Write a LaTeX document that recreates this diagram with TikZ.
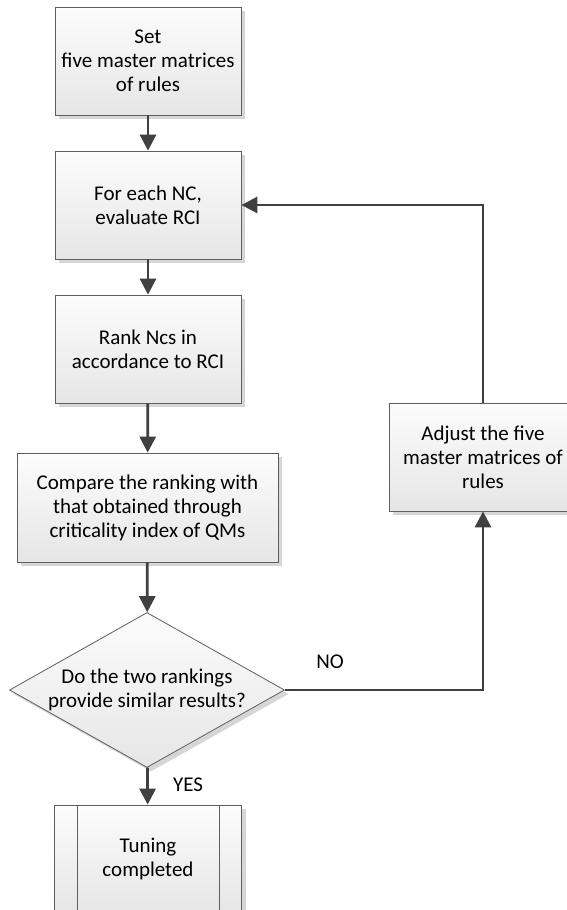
\documentclass[tikz,border=0pt]{standalone}
\usepackage{fontspec}
\setmainfont{Carlito}
\usetikzlibrary{arrows.meta,positioning,shapes.geometric,shadows}
\definecolor{FlowLine}{HTML}{404040}
\definecolor{FlowEdge}{HTML}{5F5F5F}
\definecolor{FlowTop}{HTML}{FCFCFC}
\definecolor{FlowBottom}{HTML}{E6E6E6}
\definecolor{FlowShadow}{HTML}{D6D6D6}

\begin{document}
\begin{tikzpicture}[x=1pt,y=-1pt,
    font=\fontsize{21}{24}\selectfont,
    stepbox/.style={draw=FlowEdge,line width=0.8pt,top color=FlowTop,bottom color=FlowBottom,
      minimum width=186pt,minimum height=108pt,align=center,inner sep=0pt,
      drop shadow={fill=FlowShadow,opacity=1,shadow xshift=4pt,shadow yshift=-4pt}},
    decision/.style={stepbox,diamond,aspect=1.77,inner sep=-3pt,minimum width=275pt,minimum height=155pt},
    flow/.style={draw=FlowLine,line width=2.8pt,-{Triangle[width=16pt,length=16pt]}}]
    \clip (0,0) rectangle (567,910);
    \fill[white] (0,0) rectangle (567,910);
    \coordinate (s) at (148,61);
    \coordinate (e) at (148,205);
    \coordinate (r) at (148,349);
    \coordinate (c) at (147.5,507.5);
    \coordinate (d) at (147,690);
    \coordinate (a) at (483,457);
    \coordinate (t) at (148,859);
    \node[stepbox] (set) at (s) {Set\\five master matrices\\of rules};
    \node[stepbox] (eval) at (e) {For each NC,\\evaluate RCI};
    \node[stepbox] (rank) at (r) {Rank Ncs in\\accordance to RCI};
    \node[stepbox,minimum width=261pt,minimum height=109pt] (compare) at (c)
      {Compare the ranking with\\that obtained through\\criticality index of QMs};
    \node[decision] (decide) at (d) {Do the two rankings\\provide similar results?};
    \node[stepbox,minimum width=188pt] (adjust) at (a) {Adjust the five\\master matrices of\\rules};
    \node[stepbox,minimum width=187pt] (final) at (t) {Tuning\\completed};
    \draw[FlowEdge,line width=0.8pt] ([xshift=23pt]final.north west) -- ([xshift=23pt]final.south west);
    \draw[FlowEdge,line width=0.8pt] ([xshift=-23pt]final.north east) -- ([xshift=-23pt]final.south east);
    \draw[flow] (set) -- (eval);
    \draw[flow] (eval) -- (rank);
    \draw[flow] (rank) -- (compare);
    \draw[flow] (compare) -- (decide);
    \draw[flow] (decide) -- (final);
    \draw[flow] (decide.east) -| (adjust.south);
    \draw[flow] (adjust.north) |- (eval.east);
    \node (yes) at (188,785) {YES};
    \node (no) at (330,662) {NO};
  \end{tikzpicture}
\end{document}
